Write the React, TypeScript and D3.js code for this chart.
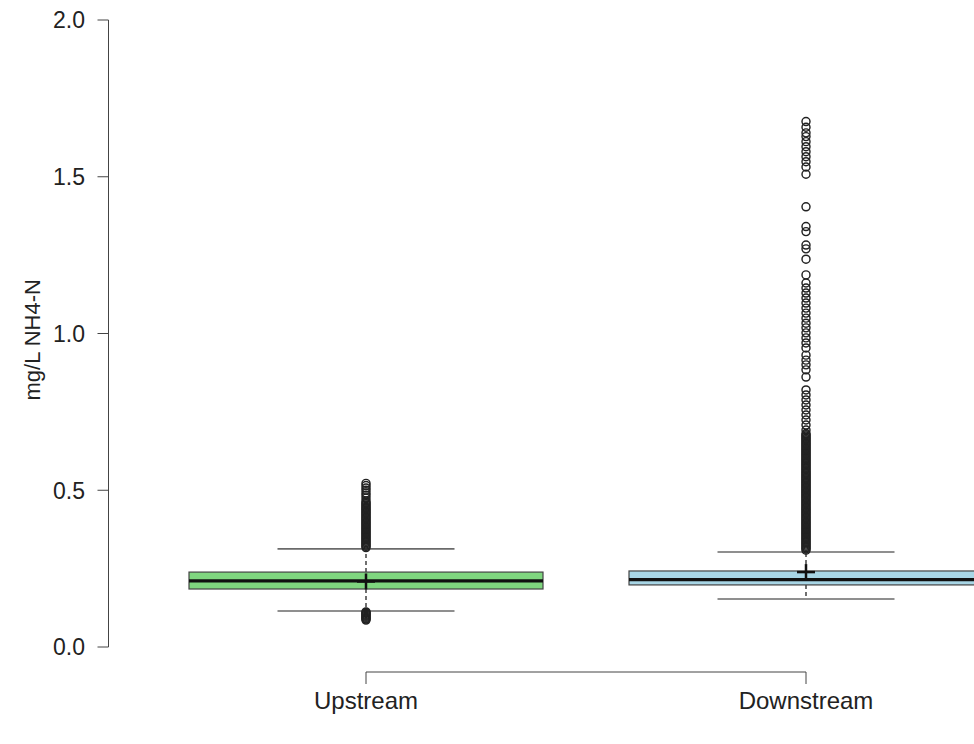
import React from "react";
import * as d3 from "d3";

const categories = ["Upstream", "Downstream"];
const q1 = [0.185, 0.198];
const medians = [0.211, 0.215];
const q3 = [0.239, 0.2425];
const lowerWhisker = [0.115, 0.153];
const upperWhisker = [0.313, 0.303];
const means = [0.209, 0.239];
const fills = ["#7fd67f", "#a8d6e6"];
const yTicks = [0, 0.5, 1.0, 1.5, 2.0];

const upstreamOutliers = [
  0.086, 0.089, 0.092, 0.095, 0.098, 0.101, 0.104, 0.107, 0.11, 0.112,
  0.317, 0.321, 0.325, 0.329, 0.333, 0.337, 0.341, 0.345, 0.349, 0.353, 0.357, 0.361,
  0.365, 0.369, 0.373, 0.377, 0.381, 0.385, 0.389, 0.393, 0.397, 0.401, 0.405, 0.409,
  0.413, 0.417, 0.421, 0.425, 0.429, 0.433, 0.437, 0.441, 0.445, 0.449, 0.453, 0.457,
  0.461, 0.466, 0.475, 0.484, 0.491, 0.5, 0.507, 0.515, 0.522,
];

const downstreamOutliers = [
  0.309, 0.313, 0.317, 0.321, 0.325, 0.329, 0.333, 0.337, 0.341, 0.345, 0.349, 0.353,
  0.357, 0.361, 0.365, 0.369, 0.373, 0.377, 0.381, 0.385, 0.389, 0.393, 0.397, 0.401,
  0.405, 0.409, 0.413, 0.417, 0.421, 0.425, 0.429, 0.433, 0.437, 0.441, 0.445, 0.449,
  0.453, 0.457, 0.461, 0.465, 0.469, 0.473, 0.477, 0.481, 0.485, 0.489, 0.493, 0.497,
  0.501, 0.505, 0.509, 0.513, 0.517, 0.521, 0.525, 0.529, 0.533, 0.537, 0.541, 0.545,
  0.549, 0.553, 0.557, 0.561, 0.565, 0.569, 0.573, 0.577, 0.581, 0.585, 0.589, 0.593,
  0.597, 0.601, 0.605, 0.609, 0.613, 0.617, 0.621, 0.625, 0.629, 0.633, 0.637, 0.641,
  0.645, 0.649, 0.653, 0.657, 0.661, 0.665, 0.669, 0.673, 0.677, 0.681,
  0.692, 0.708, 0.724, 0.74, 0.756, 0.772, 0.788,
  0.804, 0.82, 0.861, 0.884, 0.9, 0.915, 0.931, 0.954, 0.97, 0.986, 1.002, 1.018,
  1.033, 1.049, 1.065, 1.081, 1.097, 1.113, 1.129, 1.145, 1.161, 1.187, 1.237, 1.27,
  1.282, 1.325, 1.341, 1.404, 1.508, 1.531, 1.548, 1.564, 1.58, 1.596, 1.612, 1.628,
  1.64, 1.658, 1.676,
];
const outliers = [upstreamOutliers, downstreamOutliers];

const W = 974;
const H = 744;
const FONT = "'Liberation Sans', Arial, Helvetica, sans-serif";

export default function App() {
  const y = d3.scaleLinear().domain([0, 2]).range([647, 20]);
  const x = d3.scalePoint<string>().domain(categories).range([366, 806]);
  const boxHalf = 177;
  const capHalf = 88.5;
  const axisX = 108.5;
  const axisY = 672;
  const tickLen = 11;

  return (
    <svg
      width={W}
      height={H}
      style={{ position: "absolute", left: 0, top: 0, background: "#fff" }}
      fontFamily={FONT}
    >
      {/* y axis */}
      <line x1={axisX} x2={axisX} y1={y(0)} y2={y(2)} stroke="#444" strokeWidth={1} />
      {yTicks.map((t) => (
        <g key={t}>
          <line x1={axisX - tickLen} x2={axisX} y1={y(t)} y2={y(t)} stroke="#444" strokeWidth={1} />
          <text x={85} y={y(t)} dy="0.36em" textAnchor="end" fontSize={23} fill="#222">
            {d3.format(".1f")(t)}
          </text>
        </g>
      ))}
      <text
        transform={`translate(32, ${y(0.98)}) rotate(-90)`}
        textAnchor="middle"
        dy="0.35em"
        fontSize={22}
        fill="#222"
      >
        mg/L NH4-N
      </text>

      {/* x axis */}
      <line
        x1={x(categories[0])}
        x2={x(categories[1])}
        y1={axisY}
        y2={axisY}
        stroke="#444"
        strokeWidth={1}
      />
      {categories.map((c) => (
        <g key={c}>
          <line x1={x(c)} x2={x(c)} y1={axisY} y2={axisY + tickLen + 1} stroke="#444" strokeWidth={1} />
          <text x={x(c)} y={709} textAnchor="middle" fontSize={24} fill="#222">
            {c}
          </text>
        </g>
      ))}

      {/* boxes */}
      {categories.map((c, i) => {
        const cx = x(c) as number;
        return (
          <g key={c}>
            <line x1={cx} x2={cx} y1={y(q3[i])} y2={y(upperWhisker[i])} stroke="#111" strokeWidth={1.2} strokeDasharray="4,3" />
            <line x1={cx} x2={cx} y1={y(q1[i])} y2={y(lowerWhisker[i])} stroke="#111" strokeWidth={1.2} strokeDasharray="4,3" />
            <line x1={cx - capHalf} x2={cx + capHalf} y1={y(upperWhisker[i])} y2={y(upperWhisker[i])} stroke="#6a6a6a" strokeWidth={1.6} />
            <line x1={cx - capHalf} x2={cx + capHalf} y1={y(lowerWhisker[i])} y2={y(lowerWhisker[i])} stroke="#6a6a6a" strokeWidth={1.6} />
            <rect
              x={cx - boxHalf}
              y={y(q3[i])}
              width={boxHalf * 2}
              height={y(q1[i]) - y(q3[i])}
              fill={fills[i]}
              stroke="#444"
              strokeWidth={1.2}
            />
            <line x1={cx - boxHalf} x2={cx + boxHalf} y1={y(medians[i])} y2={y(medians[i])} stroke="#111" strokeWidth={3.2} />
            {outliers[i].map((v, k) => (
              <circle key={k} cx={cx} cy={y(v)} r={4} fill="none" stroke="#222" strokeWidth={1.45} />
            ))}
            <line x1={cx - 9} x2={cx + 9} y1={y(means[i])} y2={y(means[i])} stroke="#111" strokeWidth={2.5} />
            <line x1={cx} x2={cx} y1={y(means[i]) - 8} y2={y(means[i]) + 8} stroke="#111" strokeWidth={2.5} />
          </g>
        );
      })}
    </svg>
  );
}
